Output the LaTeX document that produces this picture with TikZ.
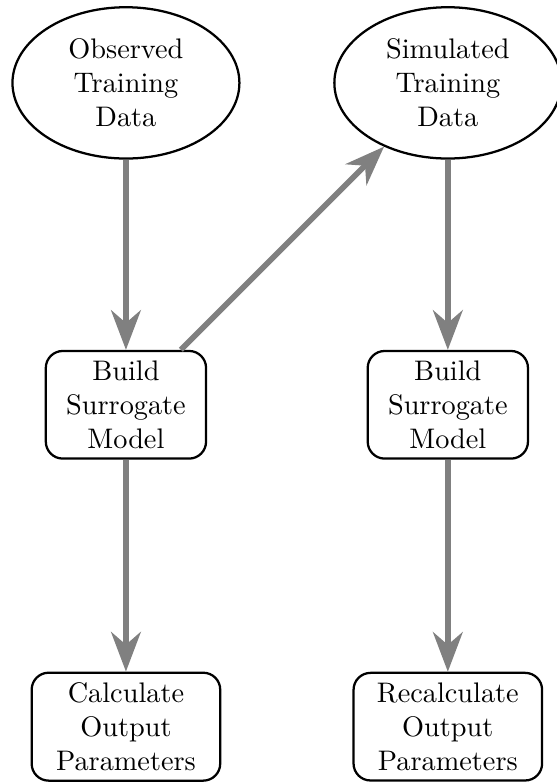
\documentclass[tikz,border=0pt]{standalone}
\usetikzlibrary{shapes.geometric, arrows.meta, positioning}
\begin{document}
\begin{tikzpicture}[x=1cm, y=1cm,
	data/.style={ellipse, draw, thick, align=center, minimum width=2.82cm, minimum height=1.88cm, inner sep=0pt},
	block/.style={rectangle, draw, thick, rounded corners=6pt, text width=5em, align=center, inner ysep=3.5pt},
	flow/.style={-{Stealth[length=14pt, width=10.5pt, inset=4.5pt]}, gray, line width=2pt}]
	\useasboundingbox (-1.565, 1.03) rectangle (5.355, -8.70);
	
	\node[data]  (obs)    at (0, 0)  {Observed\\Training\\Data};
	\node[data]  (sim)    at (4, 0)  {Simulated\\Training\\Data};
	\node[block] (build1) at (0, -4) {Build\\Surrogate\\Model};
	\node[block] (build2) at (4, -4) {Build\\Surrogate\\Model};
	\node[block, text width=6em] (calc)   at (0, -8) {Calculate\\Output\\Parameters};
	\node[block, text width=6em] (recalc) at (4, -8) {Recalculate\\Output\\Parameters};
	
	\draw[flow] (obs) -- (build1);
	\draw[flow] (build1) -- (sim);
	\draw[flow] (sim) -- (build2);
	\draw[flow] (build1) -- (calc);
	\draw[flow] (build2) -- (recalc);
\end{tikzpicture}
\end{document}
